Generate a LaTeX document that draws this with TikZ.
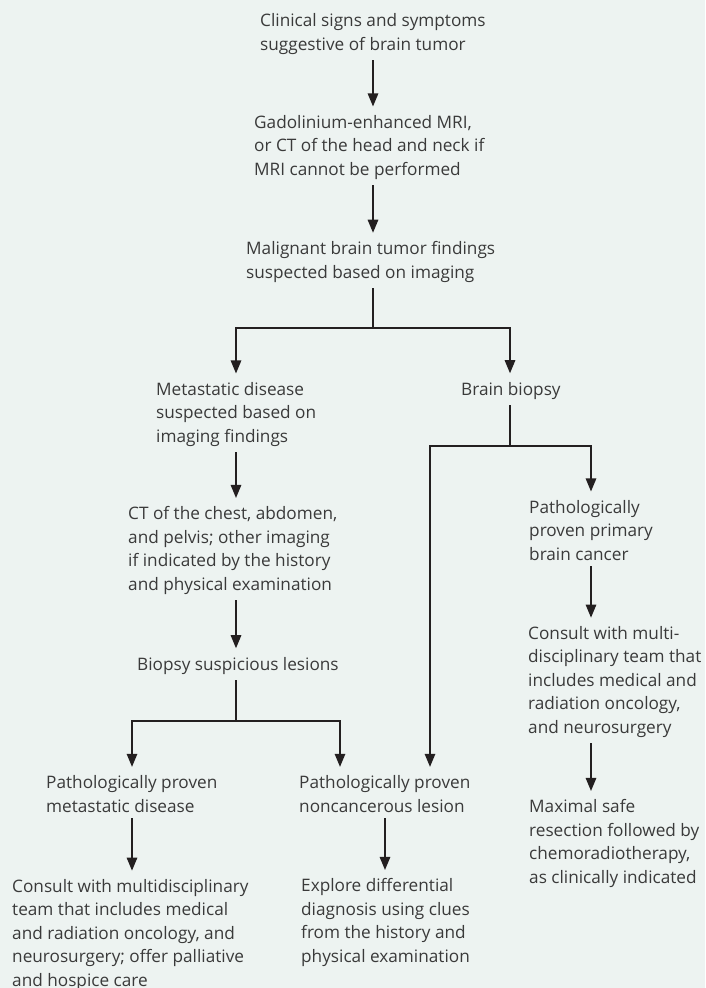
\documentclass[tikz,border=0pt]{standalone}
\usepackage{fontspec}
\setmainfont{Open Sans}
\usepackage{xcolor}
\definecolor{bgpaper}{RGB}{237,243,241}
\definecolor{inkgray}{RGB}{58,58,58}
\definecolor{linegray}{RGB}{35,31,32}
\usetikzlibrary{arrows.meta,calc}

\begin{document}
\begin{tikzpicture}[x=1pt, y=-1pt,
  txt/.style={anchor=base west, inner sep=0pt, align=left, text=inkgray, font=\fontsize{17.2}{23.4}\selectfont},
  ln/.style={line width=1.3pt, linegray},
  arr/.style={ln, -{Triangle[length=13pt,width=10.5pt]}, shorten <=6pt, shorten >=8.5pt},
  branch/.style={ln, -{Triangle[length=13pt,width=10.5pt]}, shorten >=8.5pt}
]
  \fill[bgpaper] (0,0) rectangle (705,988);
  \useasboundingbox (0,0) rectangle (705,988);

  \node[txt] (clin) at (260,50) {Clinical signs and symptoms\\suggestive of brain tumor};
  \node[txt] (mri) at (254,175) {Gadolinium-enhanced MRI,\\or CT of the head and neck if\\MRI cannot be performed};
  \node[txt] (malig) at (246,278) {Malignant brain tumor findings\\suspected based on imaging};
  \node[txt] (meta) at (156,442) {Metastatic disease\\suspected based on\\imaging findings};
  \node[txt] (biopsy) at (461,395) {Brain biopsy};
  \node[txt] (ctchest) at (128,590) {CT of the chest, abdomen,\\and pelvis; other imaging\\if indicated by the history\\and physical examination};
  \node[txt] (lesions) at (137,670) {Biopsy suspicious lesions};
  \node[txt] (metproven) at (46,812) {Pathologically proven\\metastatic disease};
  \node[txt] (noncanc) at (299,812) {Pathologically proven\\noncancerous lesion};
  \node[txt] (consultl) at (12,986) {Consult with multidisciplinary\\team that includes medical\\and radiation oncology, and\\neurosurgery; offer palliative\\and hospice care};
  \node[txt] (explore) at (301,962) {Explore differential\\diagnosis using clues\\from the history and\\physical examination};
  \node[txt] (primary) at (529,560) {Pathologically\\proven primary\\brain cancer};
  \node[txt] (consultr) at (528,733) {Consult with multi-\\disciplinary team that\\includes medical and\\radiation oncology,\\and neurosurgery};
  \node[txt] (resect) at (529,883) {Maximal safe\\resection followed by\\chemoradiotherapy,\\as clinically indicated};

  \coordinate (j1) at (373,328);
  \coordinate (j1l) at (236,328);
  \coordinate (j1r) at (510,328);
  \coordinate (j2) at (510,446);
  \coordinate (j2l) at (430,446);
  \coordinate (j2r) at (591,446);
  \coordinate (j3) at (236,721);
  \coordinate (j3l) at (132,721);
  \coordinate (j3r) at (340,721);
  \coordinate (j4) at (385,840);

  \draw[arr] (clin.south -| j1) -- (mri.north -| j1);
  \draw[arr] (mri.south -| j1) -- (malig.north -| j1);
  \draw[arr] (malig.south -| j1) -- (j1) -| (meta.north -| j1l);
  \draw[branch] (j1) -| (biopsy.north -| j1r);
  \draw[arr] (meta.south -| j3) -- (ctchest.north -| j3);
  \draw[arr] (ctchest.south -| j3) -- (lesions.north -| j3);
  \draw[arr] (lesions.south -| j3) -- (j3) -| (metproven.north -| j3l);
  \draw[branch] (j3) -| (noncanc.north -| j3r);
  \draw[arr] (metproven.south -| j3l) -- (consultl.north -| j3l);
  \draw[arr] (noncanc.south -| j4) -- (explore.north -| j4);
  \draw[arr] (biopsy.south -| j2) -- (j2) -| (noncanc.north -| j2l);
  \draw[branch] (j2) -| (primary.north -| j2r);
  \draw[arr] (primary.south -| j2r) -- (consultr.north -| j2r);
  \draw[arr] (consultr.south -| j2r) -- (resect.north -| j2r);
\end{tikzpicture}
\end{document}
